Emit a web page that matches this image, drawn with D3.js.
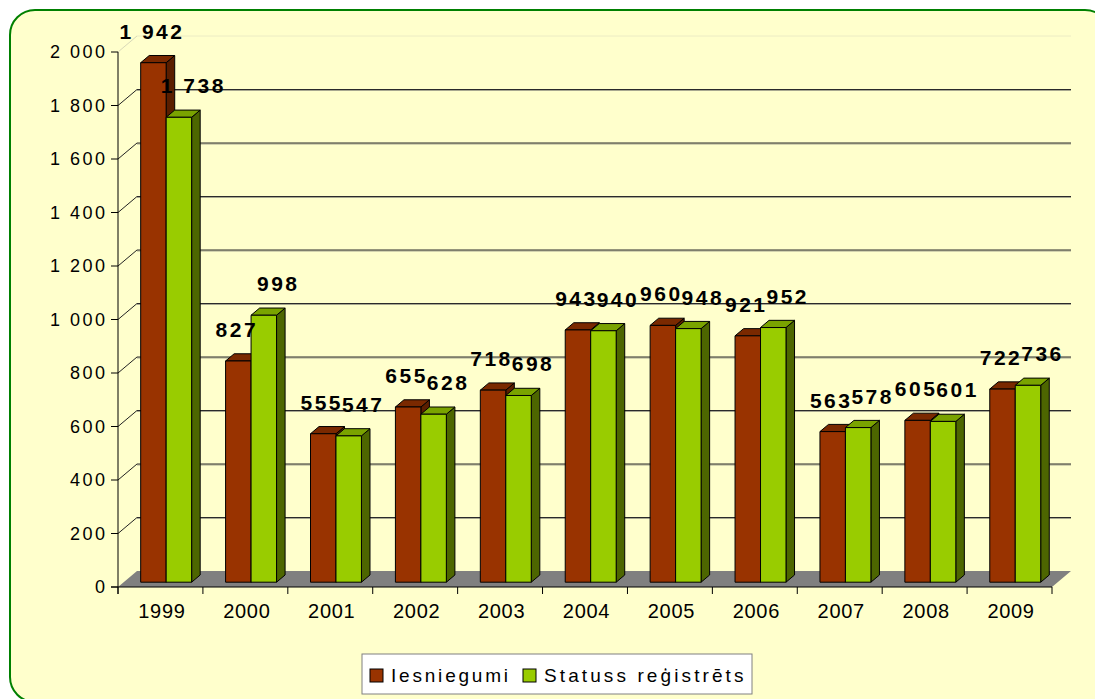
<!DOCTYPE html>
<html>
<head>
<meta charset="utf-8">
<script src="https://cdn.jsdelivr.net/npm/d3@7"></script>
<style>
  html, body { margin: 0; padding: 0; background: #ffffff; }
  svg { display: block; }
  text { font-family: "Liberation Sans", Arial, sans-serif; }
</style>
</head>
<body>
<svg id="chart" width="1095" height="699"></svg>
<script>
// ---- data ----
const years = ["1999","2000","2001","2002","2003","2004","2005","2006","2007","2008","2009"];
const seriesNames = ["Iesniegumi", "Statuss reģistrēts"];
const iesniegumi = [1942, 827, 555, 655, 718, 943, 960, 921, 563, 605, 722];
const statussRegistrets = [1738, 998, 547, 628, 698, 940, 948, 952, 578, 601, 736];
const yTicks = [0, 200, 400, 600, 800, 1000, 1200, 1400, 1600, 1800, 2000];

// ---- setup ----
const svg = d3.select("#chart");
const locale = d3.formatLocale({decimal: ",", thousands: " ", grouping: [3], currency: ["", ""]});
const fmt = locale.format(",d");

const colors = {
  front: ["#993300", "#99CC00"],
  top:   ["#7a2900", "#7aa300"],
  side:  ["#5a1e00", "#4d6600"]
};

// frame
svg.append("rect")
  .attr("x", 10).attr("y", 10).attr("width", 1100).attr("height", 692)
  .attr("rx", 25).attr("ry", 25)
  .attr("fill", "#FFFFCC").attr("stroke", "#008000").attr("stroke-width", 2);

// scales
const x0 = 118, x1 = 1052, yBase = 587, yTop = 52;
const DX = 19, DY = -16;           // full depth offset (back wall)
const f0 = 0.3, f1 = 0.75;         // bar front/back depth fractions
const y = d3.scaleLinear().domain([0, 2000]).range([yBase, yTop]);
const xb = d3.scaleBand().domain(years).range([x0, x1]).paddingInner(0.4).paddingOuter(0.2);
const xs = d3.scaleBand().domain(seriesNames).range([0, xb.bandwidth()]);
const step = xb.step();

// gridlines on back wall + diagonals on side wall
const grid = svg.append("g");
yTicks.filter(v => v > 0).forEach(v => {
  const gy = y(v) + DY;
  const top = v === 2000;
  if (!top) {
    grid.append("line")
      .attr("x1", x0 + DX).attr("x2", x1 + DX).attr("y1", gy + 1).attr("y2", gy + 1)
      .attr("stroke", "#a8a890").attr("stroke-width", 1);
  }
  grid.append("line")
    .attr("x1", x0 + DX).attr("x2", x1 + DX).attr("y1", gy).attr("y2", gy)
    .attr("stroke", top ? "#ececc4" : "#2a2a2a").attr("stroke-width", 1);
  grid.append("line")
    .attr("x1", x0).attr("y1", y(v)).attr("x2", x0 + DX).attr("y2", gy)
    .attr("stroke", top ? "#d8d8b8" : "#222222").attr("stroke-width", 1);
});

// floor
svg.append("polygon")
  .attr("points", [[x0, yBase], [x1, yBase], [x1 + DX, yBase + DY], [x0 + DX, yBase + DY]].map(p => p.join(",")).join(" "))
  .attr("fill", "#808080");

// bars
const seriesValues = [iesniegumi, statussRegistrets];
const dd = (f1 - f0) * DX, ddy = (f1 - f0) * DY;
const bars = svg.append("g");
years.forEach((yr, i) => {
  seriesNames.forEach((s, si) => {
    const v = seriesValues[si][i];
    const bx0 = xb(yr) + xs(s) + f0 * DX;
    const bx1 = bx0 + xs.bandwidth();
    const yt = y(v) + f0 * DY;
    const yb = y(0) + f0 * DY;
    const g = bars.append("g").attr("stroke", "#000").attr("stroke-width", 1).attr("stroke-linejoin", "round");
    g.append("polygon")
      .attr("points", [[bx1, yt], [bx1 + dd, yt + ddy], [bx1 + dd, yb + ddy], [bx1, yb]].map(p => p.join(",")).join(" "))
      .attr("fill", colors.side[si]);
    g.append("polygon")
      .attr("points", [[bx0, yt], [bx1, yt], [bx1 + dd, yt + ddy], [bx0 + dd, yt + ddy]].map(p => p.join(",")).join(" "))
      .attr("fill", colors.top[si]);
    g.append("rect")
      .attr("x", bx0).attr("y", yt).attr("width", bx1 - bx0).attr("height", yb - yt)
      .attr("fill", colors.front[si]);
  });
});

// axes
const ax = svg.append("g").attr("stroke", "#000").attr("stroke-width", 1);
ax.append("line").attr("x1", x0).attr("x2", x0).attr("y1", yTop).attr("y2", yBase + 7);
ax.append("line").attr("x1", x0 - 7).attr("x2", x1).attr("y1", yBase).attr("y2", yBase);
yTicks.forEach(v => {
  ax.append("line").attr("x1", x0 - 7).attr("x2", x0).attr("y1", y(v)).attr("y2", y(v));
});
d3.range(years.length + 1).forEach(k => {
  const tx = x0 + k * step;
  ax.append("line").attr("x1", tx).attr("x2", tx).attr("y1", yBase).attr("y2", yBase + 7);
});

// y tick labels
svg.append("g").selectAll("text").data(yTicks).join("text")
  .attr("x", x0 - 10.5).attr("y", d => y(d)).attr("dy", "0.36em")
  .attr("text-anchor", "end").attr("font-size", 18).attr("letter-spacing", "2.5px")
  .attr("fill", "#000").text(d => fmt(d));

// x labels
svg.append("g").selectAll("text").data(years).join("text")
  .attr("x", d => xb(d) + xb.bandwidth() / 2 + 1.5).attr("y", 618)
  .attr("text-anchor", "middle").attr("font-size", 20).attr("letter-spacing", "0.7px")
  .attr("fill", "#000").text(d => d);

// data labels
const labels = svg.append("g").attr("font-weight", "bold").attr("font-size", 21).attr("letter-spacing", "2.5px").attr("fill", "#000");
years.forEach((yr, i) => {
  seriesNames.forEach((s, si) => {
    const v = seriesValues[si][i];
    const cx = xb(yr) + xs(s) + f0 * DX + xs.bandwidth() / 2 + (si === 1 ? 13 : -3);
    labels.append("text")
      .attr("x", cx + 1.5).attr("y", y(v) + f0 * DY - 24)
      .attr("text-anchor", "middle").text(fmt(v));
  });
});

// legend
const lg = svg.append("g");
lg.append("rect").attr("x", 362).attr("y", 654).attr("width", 390).attr("height", 40)
  .attr("fill", "#ffffff").attr("stroke", "#808080").attr("stroke-width", 1);
const legendX = [370, 523];
seriesNames.forEach((s, si) => {
  lg.append("rect").attr("x", legendX[si]).attr("y", 669).attr("width", 13).attr("height", 13)
    .attr("fill", colors.front[si]).attr("stroke", "#000").attr("stroke-width", 1);
  lg.append("text").attr("x", legendX[si] + 21).attr("y", 682)
    .attr("font-size", 19).attr("letter-spacing", si === 0 ? "2.8px" : "3.1px")
    .attr("fill", "#000").text(s);
});
</script>
</body>
</html>
